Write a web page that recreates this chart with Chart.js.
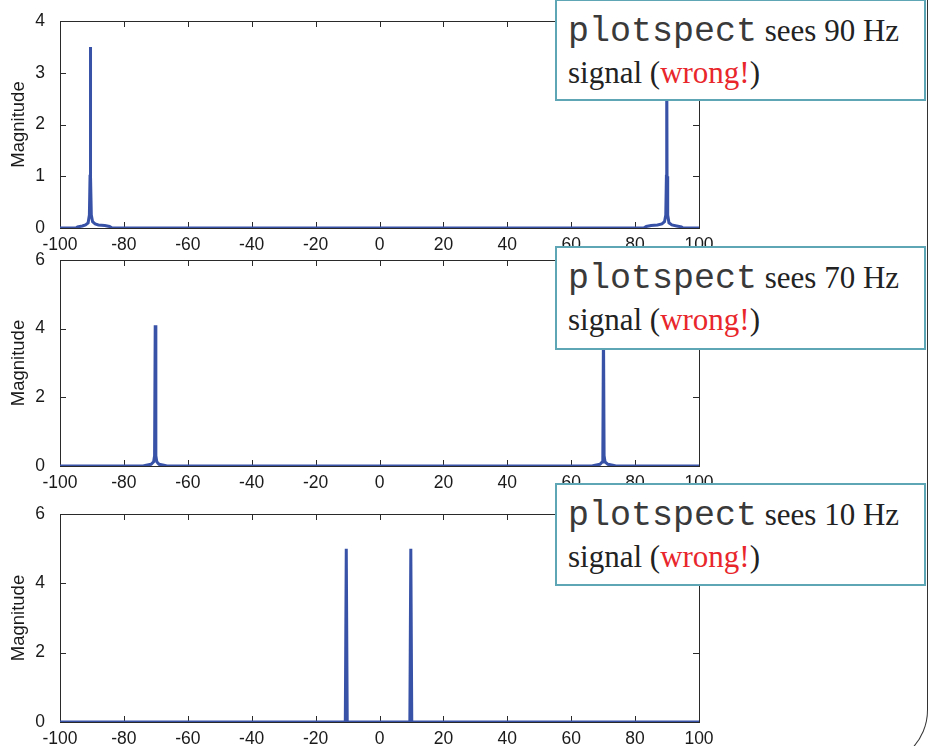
<!DOCTYPE html>
<html>
<head>
    <title>plotspect</title>
    <script src="https://cdn.jsdelivr.net/npm/chart.js"></script>
    <style>
        html, body { margin: 0; padding: 0; background: #fff; }
        body { width: 930px; height: 746px; position: relative; overflow: hidden; }
        canvas { position: absolute; left: 0; top: 0; }
        .nota {
            position: absolute; left: 555px; width: 371px; background: #fff;
            border: 2px solid #5ea6b5; font-family: "Liberation Serif", serif;
            font-size: 31px; color: #222; box-sizing: border-box;
        }
        .nota .l1 { position: absolute; left: 11px; top: 11px; white-space: nowrap; }
        .nota .l2 { position: absolute; left: 11px; top: 54px; white-space: nowrap; }
        .nota code { font-family: "Liberation Mono", monospace; font-size: 35px; color: #3a3a3a; }
        .nota .rojo { color: #e8262b; }
        .borde {
            position: absolute; left: 700px; top: -10px; width: 227px; height: 775px;
            border-right: 1.5px solid #333; border-bottom: 1.5px solid #333;
            border-bottom-right-radius: 56px;
        }
    </style>
</head>
<body>
    <div class="borde"></div>
    <canvas id="g1" width="930" height="746"></canvas>
    <canvas id="g2" width="930" height="746"></canvas>
    <canvas id="g3" width="930" height="746"></canvas>

    <div class="nota" style="top:-1px; height:102px">
        <div class="l1"><code>plotspect</code> sees 90 Hz</div>
        <div class="l2">signal (<span class="rojo">wrong!</span>)</div>
    </div>
    <div class="nota" style="top:246px; height:104px">
        <div class="l1"><code>plotspect</code> sees 70 Hz</div>
        <div class="l2">signal (<span class="rojo">wrong!</span>)</div>
    </div>
    <div class="nota" style="top:483px; height:103px">
        <div class="l1"><code>plotspect</code> sees 10 Hz</div>
        <div class="l2">signal (<span class="rojo">wrong!</span>)</div>
    </div>

    <script>
        // espectro 1: senal de 90 Hz
        var frec1 = [-100, -95, -94.5, -93, -92, -91.2, -90.8, -90.6, -90.5, -90.4, -90.2, -89.8, -89, -88, -86, -84.5, -83.7,
                     82.7, 83.5, 85, 87, 88.4, 89.2, 89.6, 89.8, 89.9, 90.0, 90.2, 90.6, 91.5, 93, 94.5, 95, 100];
        var mag1  = [0, 0, 0.02, 0.04, 0.06, 0.1, 0.25, 1.0, 3.5, 1.0, 0.25, 0.12, 0.08, 0.06, 0.05, 0.03, 0,
                     0, 0.03, 0.05, 0.06, 0.08, 0.12, 0.25, 1.0, 3.5, 1.0, 0.25, 0.1, 0.06, 0.04, 0.02, 0, 0];

        // espectro 2: senal de 70 Hz
        var frec2 = [-100, -74, -73, -71.5, -70.7, -70.4, -70.2, -70.0, -69.7, -69, -67.5, -66.5,
                     66.5, 67.5, 69, 69.7, 69.9, 70.1, 70.3, 70.6, 71.5, 73, 74, 100];
        var mag2  = [0, 0, 0.02, 0.05, 0.12, 0.3, 4.1, 0.3, 0.12, 0.05, 0.02, 0,
                     0, 0.02, 0.05, 0.12, 0.3, 4.1, 0.3, 0.12, 0.05, 0.02, 0, 0];

        // espectro 3: senal de 10 Hz
        var frec3 = [-100, -10.7, -10.4, -10.1, 9.5, 9.8, 10.1, 100];
        var mag3  = [0, 0, 5.0, 0, 0, 5.0, 0, 0];

        var ticksX = [-100, -80, -60, -40, -20, 0, 20, 40, 60, 80, 100];
        var ticksY1 = [0, 1, 2, 3, 4];
        var ticksY2 = [0, 2, 4, 6];
        var ticksY3 = [0, 2, 4, 6];

        var fuente = "'Liberation Sans', Arial, sans-serif";

        // caja de ejes estilo matlab con marcas hacia adentro
        var cajaEjes = {
            id: 'cajaEjes',
            beforeDatasetsDraw: function(chart) {
                var c = chart.ctx, a = chart.chartArea;
                var sx = chart.scales.x, sy = chart.scales.y;
                c.save();
                c.strokeStyle = '#2a2a2a';
                c.lineWidth = 1;
                c.strokeRect(a.left + 0.5, a.top + 0.5, a.right - a.left, a.bottom - a.top);
                c.beginPath();
                sx.ticks.forEach(function(t) {
                    var px = Math.round(sx.getPixelForValue(t.value)) + 0.5;
                    c.moveTo(px, a.bottom); c.lineTo(px, a.bottom - 6);
                    c.moveTo(px, a.top); c.lineTo(px, a.top + 6);
                });
                sy.ticks.forEach(function(t) {
                    var py = Math.round(sy.getPixelForValue(t.value)) + 0.5;
                    c.moveTo(a.left, py); c.lineTo(a.left + 6, py);
                    c.moveTo(a.right, py); c.lineTo(a.right - 6, py);
                });
                c.stroke();
                c.restore();
            }
        };

        // cada grafica ocupa todo el lienzo; el relleno la ubica en su franja
        function graficarEspectro(id, frec, mag, ticksY, arriba, abajo) {
            var puntos = [];
            for (var i = 0; i < frec.length; i++) {
                puntos.push({ x: frec[i], y: mag[i] });
            }
            return new Chart(document.getElementById(id).getContext('2d'), {
                type: 'line',
                data: {
                    datasets: [{
                        data: puntos,
                        borderColor: '#3852a8',
                        borderWidth: 3,
                        pointRadius: 0,
                        tension: 0,
                        fill: false
                    }]
                },
                plugins: [cajaEjes],
                options: {
                    responsive: false,
                    animation: false,
                    layout: { padding: { top: arriba, right: 231, left: 0, bottom: abajo } },
                    plugins: { legend: { display: false }, tooltip: { enabled: false } },
                    scales: {
                        x: {
                            type: 'linear',
                            min: ticksX[0],
                            max: ticksX[ticksX.length - 1],
                            afterBuildTicks: function(s) { s.ticks = ticksX.map(function(v) { return { value: v }; }); },
                            grid: { display: false },
                            border: { display: false },
                            ticks: { color: '#1a1a1a', font: { family: fuente, size: 17.5 }, padding: -1, maxRotation: 0 },
                            afterFit: function(s) { s.height = 24; }
                        },
                        y: {
                            type: 'linear',
                            min: ticksY[0],
                            max: ticksY[ticksY.length - 1],
                            afterBuildTicks: function(s) { s.ticks = ticksY.map(function(v) { return { value: v }; }); },
                            grid: { display: false },
                            border: { display: false },
                            ticks: { color: '#1a1a1a', font: { family: fuente, size: 17.5 }, padding: 7 },
                            title: {
                                display: true,
                                text: 'Magnitude',
                                color: '#1a1a1a',
                                font: { family: fuente, size: 18.5 },
                                padding: { top: 8, bottom: 0 }
                            },
                            afterFit: function(s) { s.width = 60; }
                        }
                    }
                }
            });
        }

        graficarEspectro('g1', frec1, mag1, ticksY1, 21, 494);
        graficarEspectro('g2', frec2, mag2, ticksY2, 260, 256);
        graficarEspectro('g3', frec3, mag3, ticksY3, 514, 0);
    </script>
</body>
</html>
